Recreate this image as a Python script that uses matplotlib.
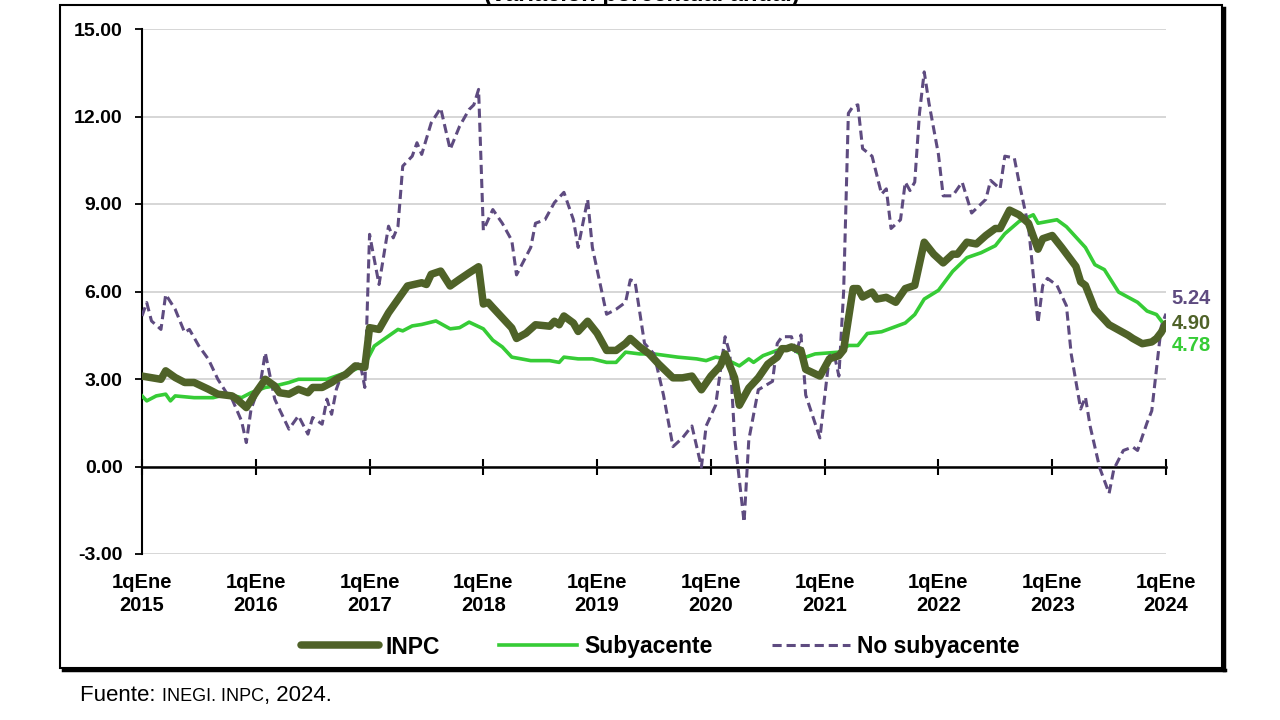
import matplotlib
matplotlib.use("Agg")
import matplotlib.pyplot as plt
from matplotlib.lines import Line2D
from matplotlib.patches import Rectangle

# quincena index: 0 = 1qEne 2015, 24 = 1qEne 2016, ... 216 = 1qEne 2024
inpc_q = [0, 4, 5, 7, 9, 11, 14, 16, 19, 20, 22, 24, 26, 28, 29, 31, 33, 35, 36, 38,
          40, 41, 43, 45, 47, 48, 50, 52, 54, 56, 59, 60, 61, 63, 65, 67, 69, 71, 72, 73,
          74, 76, 78, 79, 81, 83, 86, 87, 88, 89, 91, 92, 94, 96, 98, 100, 102, 103, 105, 107,
          109, 112, 114, 116, 118, 120, 122, 123, 125, 126, 128, 130, 132, 134, 135, 136, 137, 139, 140, 143,
          145, 147, 148, 150, 151, 152, 154, 155, 157, 159, 161, 163, 165, 167, 169, 171, 172, 174, 176, 178,
          180, 181, 183, 185, 187, 189, 190, 192, 194, 197, 198, 199, 201, 204, 206, 208, 209, 211, 213, 214,
          215, 216]
inpc = [3.10, 2.99, 3.28, 3.05, 2.88, 2.88, 2.65, 2.48, 2.42, 2.31, 2.02, 2.53, 2.99, 2.76, 2.53, 2.48, 2.65, 2.53, 2.71, 2.71,
        2.88, 2.99, 3.16, 3.45, 3.40, 4.76, 4.70, 5.27, 5.73, 6.19, 6.30, 6.24, 6.59, 6.70, 6.19, 6.42, 6.64, 6.85, 5.57, 5.63,
        5.45, 5.10, 4.75, 4.39, 4.57, 4.86, 4.81, 4.98, 4.86, 5.16, 4.92, 4.63, 4.98, 4.57, 3.98, 3.98, 4.22, 4.39, 4.10, 3.86,
        3.51, 3.04, 3.04, 3.10, 2.63, 3.10, 3.45, 3.86, 3.04, 2.10, 2.69, 3.04, 3.51, 3.75, 4.04, 4.04, 4.10, 3.98, 3.33, 3.10,
        3.69, 3.80, 4.00, 6.10, 6.10, 5.81, 5.98, 5.74, 5.80, 5.63, 6.10, 6.21, 7.69, 7.28, 6.98, 7.28, 7.28, 7.69, 7.63, 7.92,
        8.16, 8.16, 8.79, 8.63, 8.34, 7.45, 7.81, 7.92, 7.51, 6.86, 6.33, 6.21, 5.39, 4.86, 4.68, 4.50, 4.39, 4.21, 4.27, 4.39,
        4.60, 4.90]

suby_q = [0, 1, 3, 5, 6, 7, 11, 15, 18, 21, 23, 26, 28, 31, 33, 36, 39, 42, 45, 47,
          49, 51, 54, 55, 57, 59, 62, 65, 67, 69, 72, 74, 76, 78, 82, 86, 88, 89, 92, 95,
          98, 100, 102, 105, 108, 113, 117, 119, 121, 123, 126, 128, 129, 131, 135, 137, 140, 142, 147, 149,
          151, 153, 156, 158, 161, 163, 165, 168, 171, 174, 177, 180, 182, 185, 188, 189, 191, 193, 195, 199,
          201, 203, 206, 210, 212, 214, 216]
suby = [2.42, 2.25, 2.42, 2.48, 2.25, 2.42, 2.36, 2.36, 2.48, 2.36, 2.53, 2.71, 2.76, 2.88, 2.99, 2.99, 2.99, 3.16, 3.33, 3.50,
        4.13, 4.36, 4.70, 4.65, 4.82, 4.87, 4.99, 4.72, 4.76, 4.95, 4.72, 4.33, 4.10, 3.75, 3.63, 3.63, 3.57, 3.75, 3.69, 3.69,
        3.57, 3.57, 3.92, 3.86, 3.86, 3.75, 3.69, 3.63, 3.75, 3.69, 3.45, 3.69, 3.57, 3.80, 4.04, 4.04, 3.75, 3.86, 3.92, 4.15,
        4.15, 4.56, 4.62, 4.74, 4.92, 5.21, 5.74, 6.04, 6.69, 7.16, 7.33, 7.57, 7.98, 8.40, 8.63, 8.34, 8.40, 8.46, 8.22, 7.51,
        6.92, 6.75, 5.98, 5.63, 5.33, 5.21, 4.78]

nosuby_q = [0, 1, 2, 4, 5, 7, 9, 10, 12, 14, 16, 18, 19, 21, 22, 23, 25, 26, 28, 29,
            31, 33, 35, 36, 38, 39, 40, 41, 42, 44, 46, 47, 48, 49, 50, 52, 53, 54, 55, 57,
            58, 59, 61, 63, 65, 67, 69, 70, 71, 72, 74, 76, 78, 79, 82, 83, 85, 87, 89, 91,
            92, 94, 95, 98, 100, 102, 103, 104, 106, 108, 110, 112, 114, 116, 118, 119, 121, 123, 124, 125,
            127, 128, 130, 133, 134, 135, 137, 138, 139, 140, 143, 145, 146, 147, 148, 149, 150, 151, 152, 154,
            156, 157, 158, 160, 161, 162, 163, 164, 165, 166, 168, 169, 171, 173, 175, 178, 179, 181, 182, 184,
            185, 187, 188, 189, 190, 191, 193, 195, 196, 198, 199, 200, 202, 204, 205, 207, 209, 210, 212, 213,
            215, 216]
nosuby = [5.16, 5.62, 4.99, 4.70, 5.90, 5.39, 4.59, 4.70, 4.13, 3.68, 2.99, 2.48, 2.31, 1.56, 0.82, 1.96, 2.88, 3.90, 2.31, 1.96,
          1.28, 1.74, 1.11, 1.68, 1.45, 2.31, 1.79, 2.65, 3.10, 3.33, 3.56, 2.71, 7.96, 7.10, 6.24, 8.24, 7.84, 8.24, 10.30, 10.64,
          11.10, 10.70, 11.78, 12.29, 10.87, 11.67, 12.24, 12.40, 12.93, 8.10, 8.81, 8.34, 7.75, 6.57, 7.51, 8.34, 8.46, 9.05, 9.40, 8.46,
          7.51, 9.16, 7.51, 5.22, 5.39, 5.63, 6.40, 6.34, 4.22, 3.86, 2.45, 0.68, 0.98, 1.39, -0.02, 1.39, 2.10, 4.45, 3.86, 1.00,
          -1.91, 0.92, 2.63, 2.92, 4.22, 4.45, 4.45, 3.86, 4.51, 2.45, 0.98, 3.80, 3.86, 3.10, 6.00, 12.11, 12.35, 12.40, 10.90, 10.64,
          9.34, 9.52, 8.16, 8.46, 9.75, 9.46, 9.75, 12.11, 13.53, 12.46, 10.70, 9.28, 9.28, 9.75, 8.69, 9.16, 9.81, 9.52, 10.64, 10.58,
          9.75, 8.22, 6.57, 4.92, 6.21, 6.45, 6.21, 5.51, 3.86, 1.97, 2.38, 1.38, -0.04, -0.92, -0.09, 0.55, 0.67, 0.55, 1.50, 1.91,
          4.80, 5.24]

tick_q = [0, 24, 48, 72, 96, 120, 144, 168, 192, 216]
tick_labels = ["1qEne\n2015", "1qEne\n2016", "1qEne\n2017", "1qEne\n2018", "1qEne\n2019",
               "1qEne\n2020", "1qEne\n2021", "1qEne\n2022", "1qEne\n2023", "1qEne\n2024"]
y_ticks = [-3, 0, 3, 6, 9, 12, 15]

C_INPC = "#4f6228"
C_SUBY = "#36cc36"
C_NOSUBY = "#5e4b80"

plt.rcParams["font.family"] = ["Liberation Sans", "DejaVu Sans"]

fig = plt.figure(figsize=(12.8, 7.2), dpi=100, facecolor="white")
ax = fig.add_axes([142 / 1280, 1 - 554 / 720, (1166 - 142) / 1280, (554 - 29) / 720])

ax.plot(suby_q, suby, color=C_SUBY, lw=2.6, zorder=3, label="Subyacente")
nl, = ax.plot(nosuby_q, nosuby, color=C_NOSUBY, lw=2.2, zorder=4, label="No subyacente")
nl.set_dashes([3, 1.6])
ax.plot(inpc_q, inpc, color=C_INPC, lw=5.4, zorder=5, label="INPC",
        solid_joinstyle="round", solid_capstyle="round")

ax.set_xlim(0, 216)
ax.set_ylim(-3, 15)
ax.set_yticks(y_ticks)
ax.set_yticklabels([f"{v:.2f}" for v in y_ticks], fontsize=14, fontweight="bold")
ax.yaxis.grid(True, color="#d3d3d3", lw=1.3)
ax.set_axisbelow(True)
ax.tick_params(axis="y", length=5, width=1.3, pad=9)

for side in ["top", "right"]:
    ax.spines[side].set_visible(False)
ax.spines["left"].set_linewidth(1.5)
ax.spines["bottom"].set_position(("data", 0))
ax.spines["bottom"].set_linewidth(1.8)
ax.set_xticks(tick_q)
ax.tick_params(axis="x", direction="inout", length=12, width=1.5, labelbottom=False)

# labels sit under the -3 line, ticks stay on the zero line
sec = ax.secondary_xaxis(0.0)
sec.set_xticks(tick_q)
sec.set_xticklabels(tick_labels, fontsize=14.5, fontweight="bold", linespacing=1.25)
sec.tick_params(length=0, pad=14)
sec.spines["bottom"].set_visible(False)

# end values
for val, col, dy in [(nosuby[-1], C_NOSUBY, 11), (inpc[-1], C_INPC, 0), (suby[-1], C_SUBY, -13)]:
    ax.annotate(f"{val:.2f}", xy=(216, val), xytext=(4, dy), textcoords="offset points",
                color=col, fontsize=14.5, fontweight="bold", va="center", ha="left",
                annotation_clip=False)

handles = [Line2D([], [], color=C_INPC, lw=5.4, solid_capstyle="round"),
           Line2D([], [], color=C_SUBY, lw=2.6),
           Line2D([], [], color=C_NOSUBY, lw=2.2, dashes=[3, 1.6])]
fig.legend(handles, ["INPC", "Subyacente", "No subyacente"], loc="center",
           bbox_to_anchor=(660 / 1280, 1 - 647 / 720), ncol=3, frameon=False,
           prop={"size": 16.5, "weight": "bold"}, handlelength=3.4, handletextpad=0.3,
           columnspacing=2.6)

# outer frame with shadow on right/bottom
fig.add_artist(Rectangle((60 / 1280, 1 - 668 / 720), (1222 - 60) / 1280, (668 - 5) / 720,
                         transform=fig.transFigure, fill=False, edgecolor="black", lw=1.5))
fig.add_artist(Line2D([1224 / 1280, 1224 / 1280], [1 - 670 / 720, 1 - 8 / 720],
                      transform=fig.transFigure, color="black", lw=2.5))
fig.add_artist(Line2D([63 / 1280, 1225 / 1280], [1 - 670 / 720, 1 - 670 / 720],
                      transform=fig.transFigure, color="black", lw=2.5))

# title is cut off at the top edge in the original
fig.text(642 / 1280, 1 - 1 / 720, "(variación porcentual anual)", ha="center", va="baseline",
         fontsize=17, fontweight="bold")

# source line, small caps imitated with a smaller size
src = fig.text(80 / 1280, 1 - 701 / 720, "Fuente: ", fontsize=16, va="baseline")
mid = plt.annotate("INEGI. INPC", xy=(1, 0.04), xycoords=src, va="bottom", fontsize=13)
plt.annotate(", 2024.", xy=(1, -0.04), xycoords=mid, va="bottom", fontsize=16)

fig.savefig("out.png", dpi=100, facecolor="white")
